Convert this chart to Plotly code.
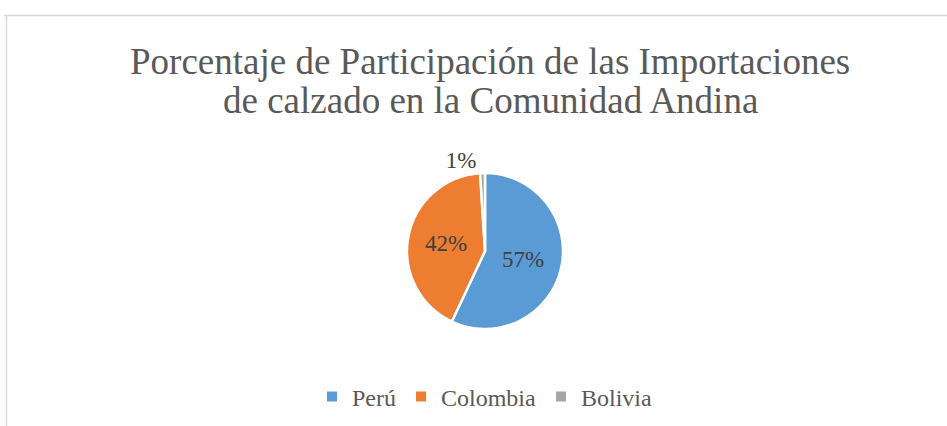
import plotly.graph_objects as go

categories = ["Perú", "Colombia", "Bolivia"]
values = [57, 42, 1]
colors = ["#5B9BD5", "#ED7D31", "#A5A5A5"]
title_lines = ["Porcentaje de Participación de las Importaciones",
               "de calzado en la Comunidad Andina"]

W, H = 947, 426
SERIF = "Liberation Serif, Times New Roman, Times, serif"

fig = go.Figure(go.Pie(
    labels=categories,
    values=values,
    sort=False,
    direction="clockwise",
    rotation=0,
    marker=dict(colors=colors, line=dict(color="white", width=2.5)),
    texttemplate="%{percent:.0%}",
    textposition=["inside", "inside", "outside"],
    insidetextorientation="horizontal",
    textfont=dict(family=SERIF, size=23, color="#404040"),
    outsidetextfont=dict(family=SERIF, size=23, color="#404040"),
    insidetextfont=dict(family=SERIF, size=23, color="#404040"),
    hoverinfo="label+percent",
    domain=dict(x=[(485 - 78) / W, (485 + 78) / W], y=[(426 - 329) / H, (426 - 173) / H]),
))

title_y_px = [62, 101]
annotations = [
    dict(text=t, xref="paper", yref="paper", x=490.5 / W, y=1 - yp / H,
         xanchor="center", yanchor="middle", showarrow=False,
         font=dict(family=SERIF, size=37, color="#595959"))
    for t, yp in zip(title_lines, title_y_px)
]

fig.update_layout(
    width=W, height=H,
    margin=dict(l=0, r=0, t=0, b=0),
    paper_bgcolor="white",
    plot_bgcolor="white",
    annotations=annotations,
    legend=dict(
        orientation="h",
        x=485 / W, xanchor="center",
        y=(426 - 397) / H, yanchor="middle",
        font=dict(family=SERIF, size=24, color="#595959"),
        itemsizing="constant",
    ),
    shapes=[
        dict(type="line", xref="paper", yref="paper", x0=4 / W, x1=1, y0=1 - 15.5 / H, y1=1 - 15.5 / H,
             line=dict(color="#D9D9D9", width=1.5)),
        dict(type="line", xref="paper", yref="paper", x0=6.5 / W, x1=6.5 / W, y0=0, y1=1 - 15.5 / H,
             line=dict(color="#D9D9D9", width=1.5)),
    ],
)

fig.write_html("out.html", config={"displayModeBar": False},
               post_script="document.body.style.margin='0';")
